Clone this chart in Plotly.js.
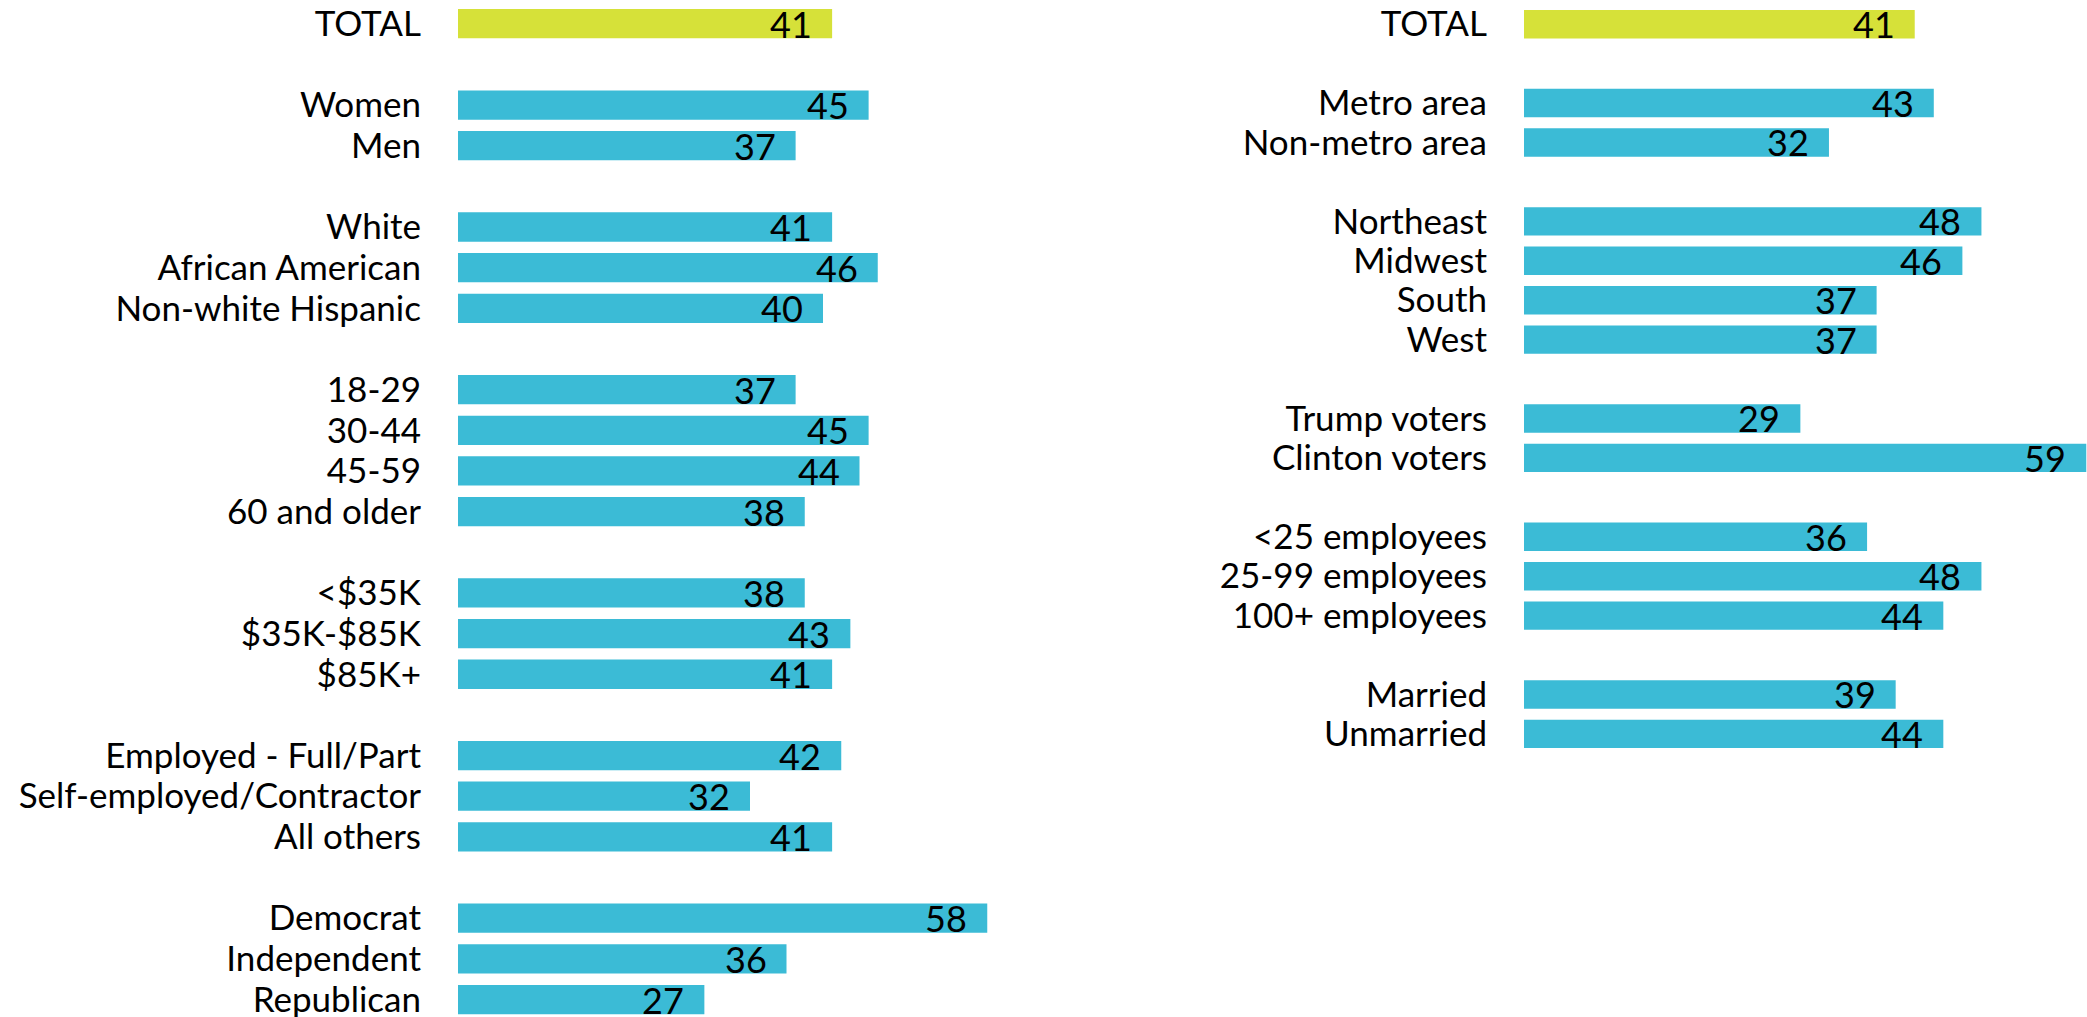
<!DOCTYPE html>
<html>
<head>
<meta charset="utf-8">
<script src="https://cdn.plot.ly/plotly-3.0.1.min.js"></script>
<style>html,body{margin:0;padding:0;background:#fff;}#chart{width:2087px;height:1017px;}</style>
</head>
<body>
<div id="chart"></div>
<script>
// ---- Data ----
const leftGroups = [
  ["TOTAL"],
  ["Women", "Men"],
  ["White", "African American", "Non-white Hispanic"],
  ["18-29", "30-44", "45-59", "60 and older"],
  ["<$35K", "$35K-$85K", "$85K+"],
  ["Employed - Full/Part", "Self-employed/Contractor", "All others"],
  ["Democrat", "Independent", "Republican"]
];
const leftValues = [
  [41],
  [45, 37],
  [41, 46, 40],
  [37, 45, 44, 38],
  [38, 43, 41],
  [42, 32, 41],
  [58, 36, 27]
];
const rightGroups = [
  ["TOTAL"],
  ["Metro area", "Non-metro area"],
  ["Northeast", "Midwest", "South", "West"],
  ["Trump voters", "Clinton voters"],
  ["<25 employees", "25-99 employees", "100+ employees"],
  ["Married", "Unmarried"]
];
const rightValues = [
  [41],
  [43, 32],
  [48, 46, 37, 37],
  [29, 59],
  [36, 48, 44],
  [39, 44]
];

// ---- Styles ----
const TOTAL_COLOR = "#d6e139";
const BAR_COLOR = "#3bbbd6";
const FONT = "Lato, 'Open Sans', sans-serif";

function flatten(groups, values) {
  const labels = [], vals = [], pos = [], colors = [];
  let p = 0;
  groups.forEach((g, gi) => {
    g.forEach((lab, i) => {
      labels.push(lab);
      vals.push(values[gi][i]);
      pos.push(p);
      colors.push(lab === "TOTAL" ? TOTAL_COLOR : BAR_COLOR);
      p += 1;
    });
    p += 1; // blank row between groups
  });
  return {labels, vals, pos, colors};
}

const L = flatten(leftGroups, leftValues);
const R = flatten(rightGroups, rightValues);

const traces = [
  {type: "bar", orientation: "h", x: L.vals, y: L.pos, marker: {color: L.colors, line: {width: 0}},
   width: 0.72, xaxis: "x", yaxis: "y", hoverinfo: "skip", showlegend: false},
  {type: "bar", orientation: "h", x: R.vals, y: R.pos, marker: {color: R.colors, line: {width: 0}},
   width: 0.72, xaxis: "x2", yaxis: "y2", hoverinfo: "skip", showlegend: false}
];

const annotations = [];
function addLabels(D, xr, yr) {
  D.vals.forEach((v, i) => {
    annotations.push({
      x: v, y: D.pos[i], xref: xr, yref: yr, text: String(v), showarrow: false,
      xanchor: "right", yanchor: "middle", xshift: -18,
      font: {family: FONT, size: 36, color: "#000"}
    });
  });
}
addLabels(L, "x", "y");
addLabels(R, "x2", "y2");

const W = 2087;
const axisX = {showgrid: false, zeroline: false, showticklabels: false, ticks: "", showline: false, fixedrange: true};
const axisY = {domain: [0, 1], showgrid: false, zeroline: false, showline: false, ticks: "",
  ticklabelstandoff: 36, ticklabeloverflow: "allow",
  tickfont: {family: FONT, size: 35, color: "#000"}, automargin: false, fixedrange: true};

const layout = {
  width: W, height: 1017, autosize: false,
  margin: {l: 0, r: 0, t: 0, b: 0, pad: 0},
  paper_bgcolor: "#fff", plot_bgcolor: "#fff",
  bargap: 0.28,
  xaxis: Object.assign({}, axisX, {domain: [458 / W, 1050 / W], range: [0, (1050 - 458) / 9.125], anchor: "y"}),
  xaxis2: Object.assign({}, axisX, {domain: [1524 / W, 1], range: [0, (W - 1524) / 9.53], anchor: "y2"}),
  yaxis: Object.assign({}, axisY, {anchor: "x", range: [24.43, -0.583], tickvals: L.pos, ticktext: L.labels}),
  yaxis2: Object.assign({}, axisY, {anchor: "x2", range: [25.18, -0.614], tickvals: R.pos, ticktext: R.labels}),
  annotations: annotations
};

Plotly.newPlot("chart", traces, layout, {displayModeBar: false, staticPlot: true});
</script>
</body>
</html>
